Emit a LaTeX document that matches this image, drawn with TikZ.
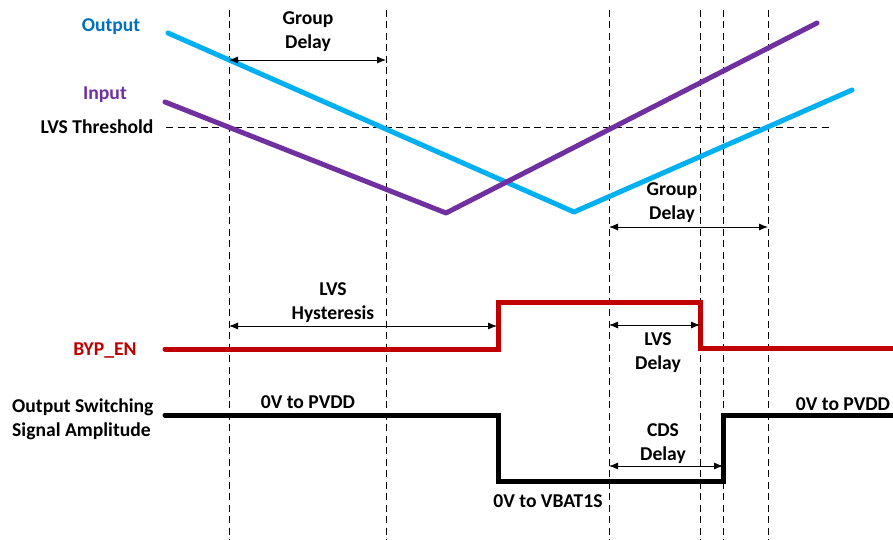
\documentclass[tikz,border=0pt]{standalone}
\usepackage{fontspec}
\setmainfont{Carlito}
\usetikzlibrary{arrows.meta}
\definecolor{outblue}{HTML}{0070C0}
\definecolor{wcyan}{HTML}{00B0F0}
\definecolor{wpurple}{HTML}{7030A0}
\definecolor{wred}{HTML}{C00000}
\begin{document}
\begin{tikzpicture}[x=1pt,y=-1pt,
  lbl/.style={font=\fontsize{19.6}{24}\selectfont\bfseries, inner sep=0pt, align=center},
  guide/.style={black, line width=0.8pt, dash pattern=on 7pt off 4.5pt},
  wave/.style={line width=5pt, line cap=round, line join=round},
  stepwave/.style={line width=5pt, line cap=round, line join=miter},
  dim/.style={line width=0.8pt, {Latex[length=9pt,width=7pt]}-{Latex[length=9pt,width=7pt]}}]
\useasboundingbox (0,0) rectangle (893,540);
% guide lines
\foreach \gx/\gn in {229/ga,386/gb,609/gc,700/gd,723/ge,768/gf}{
  \coordinate (\gn top) at (\gx,10);
  \coordinate (\gn bot) at (\gx,540);
  \draw[guide] (\gn top) -- (\gn bot);
}
\coordinate (thL) at (166,127);
\coordinate (thR) at (832,127);
\draw[guide] (thL) -- (thR);
% analog waves
\coordinate (o1) at (168,33);
\coordinate (o2) at (574,212);
\coordinate (o3) at (852,90);
\draw[wave, wcyan] (o1) -- (o2) -- (o3);
\coordinate (i1) at (165,102);
\coordinate (i2) at (446,213);
\coordinate (i3) at (817,23);
\draw[wave, wpurple] (i1) -- (i2) -- (i3);
% BYP_EN
\coordinate (r1) at (165,349);
\coordinate (r2) at (498,349);
\coordinate (r3) at (498,302);
\coordinate (r4) at (700,302);
\coordinate (r5) at (700,348);
\coordinate (r6) at (900,348);
\draw[stepwave, wred] (r1) -- (r2) -- (r3) -- (r4) -- (r5) -- (r6);
% output switching
\coordinate (b1) at (165,415);
\coordinate (b2) at (498,415);
\coordinate (b3) at (498,481);
\coordinate (b4) at (723,481);
\coordinate (b5) at (723,415);
\coordinate (b6) at (900,415);
\draw[stepwave, black] (b1) -- (b2) -- (b3) -- (b4) -- (b5) -- (b6);
% dimension arrows
\coordinate (gd1a) at (229,60);  \coordinate (gd1b) at (386,60);
\draw[dim] (gd1a) -- (gd1b);
\coordinate (gd2a) at (609,227); \coordinate (gd2b) at (768,227);
\draw[dim] (gd2a) -- (gd2b);
\coordinate (hya) at (229,326);  \coordinate (hyb) at (497,326);
\draw[dim] (hya) -- (hyb);
\coordinate (lda) at (609,325);  \coordinate (ldb) at (700,325);
\draw[dim] (lda) -- (ldb);
\coordinate (cda) at (609,466);  \coordinate (cdb) at (723,466);
\draw[dim] (cda) -- (cdb);
% labels
\node[lbl, text=outblue] (lout) at (111,27) {Output};
\node[lbl, text=wpurple] (lin) at (105,95) {Input};
\node[lbl] (lth) at (97,127) {LVS Threshold};
\node[lbl] (lgd1) at (308,32) {Group\\Delay};
\node[lbl] (lgd2) at (672,203) {Group\\Delay};
\node[lbl, text=wred] (lbyp) at (105,351) {BYP\_EN};
\node[lbl] (lhy) at (333,303) {LVS\\Hysteresis};
\node[lbl] (lld) at (658,353) {LVS\\Delay};
\node[lbl, align=left, anchor=west] (lsw) at (12,419) {Output Switching\\Signal Amplitude};
\node[lbl] (lp1) at (308,402) {0V to PVDD};
\node[lbl] (lp2) at (843,404) {0V to PVDD};
\node[lbl] (lcd) at (663,444) {CDS\\Delay};
\node[lbl] (lvb) at (548,501) {0V to VBAT1S};
\end{tikzpicture}
\end{document}
